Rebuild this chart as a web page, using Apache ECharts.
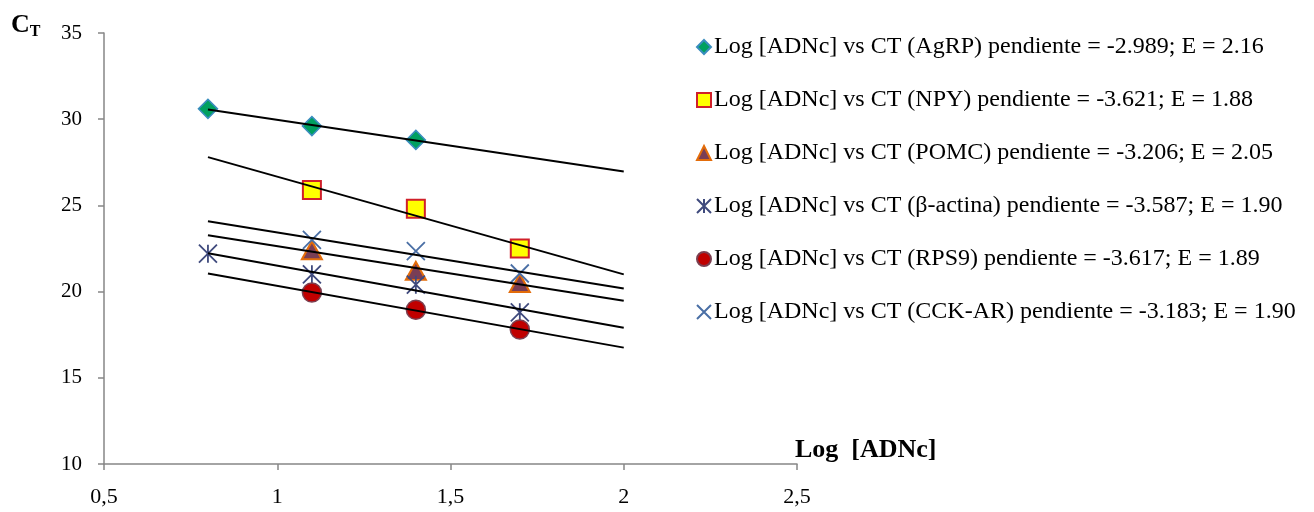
<!DOCTYPE html>
<html>
<head>
<meta charset="utf-8">
<script src="https://cdn.jsdelivr.net/npm/echarts@6/dist/echarts.min.js"></script>
<style>
html,body{margin:0;padding:0;background:#fff;}
#chart{width:1314px;height:512px;}
</style>
</head>
<body>
<div id="chart"></div>
<script>
// ---- data ----
const seriesNames = [
  'Log [ADNc] vs CT (AgRP) pendiente = -2.989; E = 2.16',
  'Log [ADNc] vs CT (NPY) pendiente = -3.621; E = 1.88',
  'Log [ADNc] vs CT (POMC) pendiente = -3.206; E = 2.05',
  'Log [ADNc] vs CT (\u03b2-actina) pendiente = -3.587; E = 1.90',
  'Log [ADNc] vs CT (RPS9) pendiente = -3.617; E = 1.89',
  'Log [ADNc] vs CT (CCK-AR) pendiente = -3.183; E = 1.90'
];
const agrpX = [0.8, 1.1, 1.4];
const agrpY = [30.6, 29.6, 28.8];
const npyX = [1.1, 1.4, 1.7];
const npyY = [25.9, 24.8, 22.5];
const pomcX = [1.1, 1.4, 1.7];
const pomcY = [22.4, 21.2, 20.5];
const actinaX = [0.8, 1.1, 1.4, 1.7];
const actinaY = [22.2, 21.0, 20.4, 18.8];
const rps9X = [1.1, 1.4, 1.7];
const rps9Y = [19.95, 18.95, 17.8];
const cckX = [1.1, 1.4, 1.7];
const cckY = [23.0, 22.35, 21.05];
const trendRange = [0.8, 2.0];
const xTicks = [0.5, 1, 1.5, 2, 2.5];
const yTicks = [10, 15, 20, 25, 30, 35];

// ---- build ----
function pairs(xs, ys){ return xs.map((x,i)=>[x, ys[i]]); }
function regress(xs, ys){
  const n = xs.length;
  const mx = xs.reduce((a,b)=>a+b,0)/n, my = ys.reduce((a,b)=>a+b,0)/n;
  let sxy=0, sxx=0;
  for(let i=0;i<n;i++){ sxy += (xs[i]-mx)*(ys[i]-my); sxx += (xs[i]-mx)*(xs[i]-mx); }
  const m = sxy/sxx, b = my - m*mx;
  return trendRange.map(x=>[x, m*x+b]);
}
const sets = [[agrpX,agrpY],[npyX,npyY],[pomcX,pomcY],[actinaX,actinaY],[rps9X,rps9Y],[cckX,cckY]];
const styles = [
  {symbol:'diamond', symbolSize:19, itemStyle:{color:'#00A060', borderColor:'#3A8DBE', borderWidth:1.5, opacity:1}},
  {symbol:'rect', symbolSize:18, itemStyle:{color:'#FFFF00', borderColor:'#D0202A', borderWidth:2, opacity:1}},
  {symbol:'triangle', symbolSize:[20,18], itemStyle:{color:'#7A3E55', borderColor:'#E36C0A', borderWidth:2, opacity:1}},
  {symbol:'path://M0 0L10 10M10 0L0 10M5 0L5 10', symbolSize:18, itemStyle:{color:'rgba(0,0,0,0)', borderColor:'#3F4A7D', borderWidth:1.8, opacity:1}},
  {symbol:'circle', symbolSize:19, itemStyle:{color:'#C00000', borderColor:'#7B3F50', borderWidth:1.5, opacity:1}},
  {symbol:'path://M0 0L10 10M10 0L0 10', symbolSize:18, itemStyle:{color:'rgba(0,0,0,0)', borderColor:'#4A6FA5', borderWidth:1.8, opacity:1}}
];
const series = [];
sets.forEach((s,i)=>{
  series.push(Object.assign({
    name: seriesNames[i], type:'scatter', z:2,
    data: pairs(s[0], s[1])
  }, styles[i]));
});
sets.forEach((s,i)=>{
  series.push({
    name: 'trend'+i, type:'line', z:5, silent:true, symbol:'none',
    lineStyle:{color:'#000', width:2}, data: regress(s[0], s[1])
  });
});

const fmt = v => String(v).replace('.', ',');
const chart = echarts.init(document.getElementById('chart'));
chart.setOption({
  animation:false,
  backgroundColor:'#fff',
  grid:{left:104, right:517, top:33, bottom:48, containLabel:false},
  xAxis:{type:'value', min:xTicks[0], max:xTicks[xTicks.length-1], interval:0.5,
    axisLine:{show:true, lineStyle:{color:'#868686', width:1.5}},
    axisTick:{show:true, inside:false, length:6, lineStyle:{color:'#868686', width:1.5}},
    splitLine:{show:false},
    axisLabel:{formatter:fmt, color:'#000', fontFamily:'Liberation Serif', fontSize:22, margin:22}
  },
  yAxis:{type:'value', min:yTicks[0], max:yTicks[yTicks.length-1], interval:5,
    axisLine:{show:true, lineStyle:{color:'#868686', width:1.5}},
    axisTick:{show:true, inside:false, length:6, lineStyle:{color:'#868686', width:1.5}},
    splitLine:{show:false},
    axisLabel:{color:'#000', fontFamily:'Liberation Serif', fontSize:21, margin:22}
  },
  legend:{
    orient:'vertical', left:691, top:30,
    data: seriesNames,
    itemWidth:14, itemHeight:14, itemGap:29,
    textStyle:{fontFamily:'Liberation Serif', fontSize:24, color:'#000', lineHeight:20, padding:[0,0,0,-2]},
    selectedMode:false
  },
  graphic:[
    {type:'text', left:11, top:12, style:{
      text:'{a|C}{b|T}', rich:{
        a:{fontFamily:'Liberation Serif', fontWeight:'bold', fontSize:26, fill:'#000'},
        b:{fontFamily:'Liberation Serif', fontWeight:'bold', fontSize:16, fill:'#000', verticalAlign:'bottom', padding:[14,0,0,0]}
      }}},
    {type:'text', left:795, top:437, style:{
      text:'Log  [ADNc]', fontFamily:'Liberation Serif', fontWeight:'bold', fontSize:26, fill:'#000'}}
  ],
  series: series
});
</script>
</body>
</html>
